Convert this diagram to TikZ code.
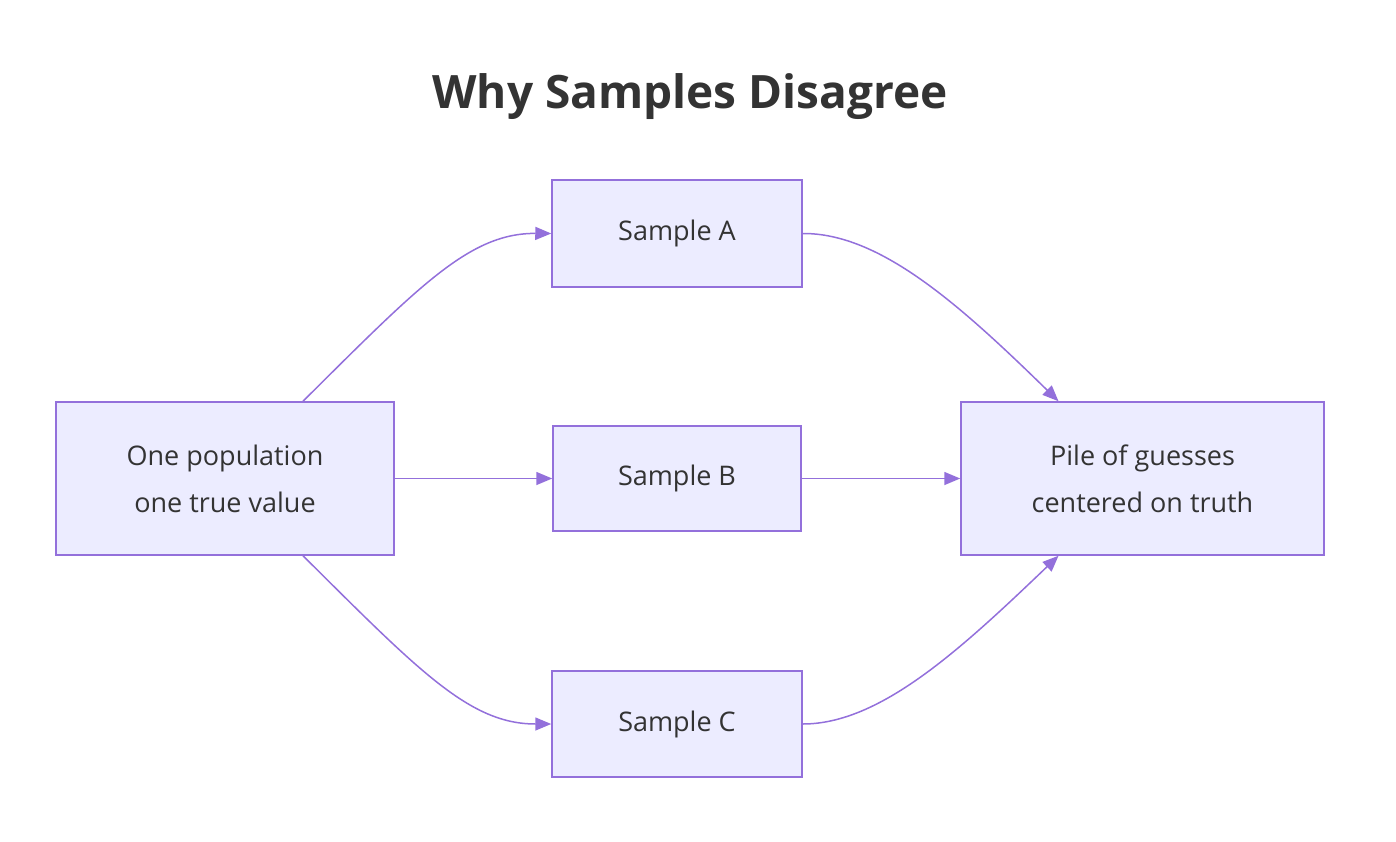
\documentclass[tikz,border=0pt]{standalone}
\usepackage{fontspec}
\setmainfont{Open Sans}
\usetikzlibrary{arrows.meta, positioning, calc}
\definecolor{mmfill}{HTML}{ECECFF}
\definecolor{mmline}{HTML}{9370DB}
\definecolor{mmtext}{HTML}{333333}

\begin{document}
\begin{tikzpicture}[
    x=1pt, y=-1pt,
    box/.style={rectangle, draw=mmline, fill=mmfill, line width=1.5pt, text=mmtext, align=center, font=\fontsize{27}{47}\selectfont, inner sep=0pt},
    arrow/.style={-{Triangle[length=16pt, width=13pt]}, line width=1.5pt, draw=mmline}
]
\useasboundingbox (0,0) rectangle (1396,842);

\node[font=\fontsize{46}{50}\selectfont\bfseries, text=mmtext] (title) at (690,97) {Why Samples Disagree};

\node[box, minimum width=338pt, minimum height=153pt] (pop) at (225,478.5) {One population\\one true value};
\node[box, minimum width=250pt, minimum height=107pt] (sa) at (677,233.5) {Sample A};
\node[box, minimum width=248pt, minimum height=105pt] (sb) at (677,478.5) {Sample B};
\node[box, minimum width=250pt, minimum height=106pt] (sc) at (677,724) {Sample C};
\node[box, minimum width=363pt, minimum height=153pt] (pile) at (1142.5,478.5) {Pile of guesses\\centered on truth};

% edge anchors on the wide boxes
\coordinate (popn) at ($(pop.north)+(78,0)$);
\coordinate (pops) at ($(pop.south)+(78,0)$);
\coordinate (pilen) at ($(pile.north)+(-84,0)$);
\coordinate (piles) at ($(pile.south)+(-84,0)$);

\draw[arrow] (popn) .. controls (420,285) and (470,233) .. (sa.west);
\draw[arrow] (pop.east) -- (sb.west);
\draw[arrow] (pops) .. controls (420,672) and (470,724) .. (sc.west);
\draw[arrow] (sa.east) .. controls (880,233) and (960,305) .. (pilen);
\draw[arrow] (sb.east) -- (pile.west);
\draw[arrow] (sc.east) .. controls (880,724) and (960,650) .. (piles);

\end{tikzpicture}
\end{document}
